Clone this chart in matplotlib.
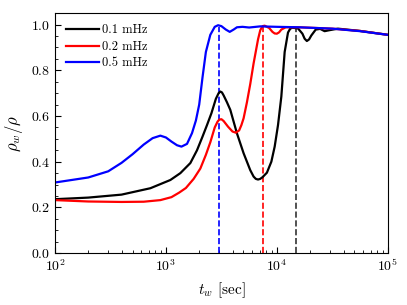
import numpy as np
import matplotlib
matplotlib.use("Agg")
import matplotlib.pyplot as plt

plt.rcParams["font.family"] = "serif"
plt.rcParams["font.serif"] = ["cmr10"]
plt.rcParams["mathtext.fontset"] = "cm"
plt.rcParams["axes.formatter.use_mathtext"] = True

# log10(t_w) and rho_w/rho
logt_01 = [2.0, 2.3, 2.6, 2.86, 3.04, 3.13, 3.22, 3.28, 3.33, 3.37, 3.41, 3.45, 3.475, 3.49,
           3.505, 3.52, 3.55, 3.58, 3.64, 3.70, 3.76, 3.79, 3.81, 3.83, 3.85, 3.87, 3.91, 3.95, 3.98,
           4.01, 4.04, 4.07, 4.10, 4.12, 4.14, 4.19, 4.23, 4.25, 4.27, 4.29, 4.31, 4.35, 4.39, 4.43,
           4.47, 4.55, 4.75, 5.0]
rho_01 = [0.236, 0.243, 0.256, 0.284, 0.32, 0.35, 0.394, 0.45, 0.51, 0.56, 0.612, 0.675, 0.70, 0.707,
          0.703, 0.69, 0.66, 0.627, 0.524, 0.437, 0.363, 0.335, 0.325, 0.322, 0.325, 0.332, 0.352, 0.40, 0.466,
          0.56, 0.685, 0.88, 0.965, 0.982, 0.986, 0.983, 0.96, 0.938, 0.928, 0.935, 0.952, 0.978, 0.981, 0.971,
          0.975, 0.982, 0.972, 0.955]

logt_02 = [2.0, 2.3, 2.6, 2.8, 2.95, 3.05, 3.12, 3.18, 3.25, 3.31, 3.36, 3.40, 3.44,
           3.465, 3.48, 3.50, 3.52, 3.56, 3.60, 3.63, 3.66, 3.68, 3.70, 3.73, 3.76, 3.79, 3.83, 3.85, 3.87,
           3.89, 3.93, 3.96, 3.98, 4.0, 4.02, 4.04, 4.08, 4.2, 4.5, 4.75, 5.0]
rho_02 = [0.232, 0.226, 0.224, 0.225, 0.232, 0.245, 0.265, 0.285, 0.325, 0.37, 0.43, 0.485, 0.55,
          0.575, 0.584, 0.586, 0.578, 0.553, 0.532, 0.527, 0.537, 0.56, 0.59, 0.66, 0.74, 0.83, 0.935, 0.975, 0.993,
          0.995, 0.985, 0.968, 0.961, 0.96, 0.966, 0.978, 0.988, 0.988, 0.982, 0.972, 0.955]

logt_05 = [2.0, 2.15, 2.3, 2.48, 2.6, 2.7, 2.8, 2.88, 2.95, 3.0, 3.05, 3.1, 3.14, 3.19,
           3.235, 3.27, 3.3, 3.33, 3.36, 3.4, 3.44, 3.47, 3.5, 3.54, 3.575, 3.61, 3.64,
           3.69, 3.75, 3.85, 4.0, 4.2, 4.5, 4.75, 5.0]
rho_05 = [0.309, 0.32, 0.331, 0.358, 0.395, 0.433, 0.475, 0.503, 0.514, 0.506, 0.488, 0.472, 0.466, 0.478,
          0.525, 0.58, 0.65, 0.77, 0.88, 0.955, 0.99, 0.997, 0.993, 0.978, 0.968, 0.978, 0.988,
          0.99, 0.987, 0.992, 0.99, 0.988, 0.982, 0.971, 0.955]

labels = ["0.1 mHz", "0.2 mHz", "0.5 mHz"]
colors = ["black", "red", "blue"]

# dashed markers (t_w in sec, top of line)
t_mark = [15000, 7500, 3000]
rho_mark = [0.985, 0.99, 0.99]
mark_colors = ["0.2", "red", "blue"]

fig = plt.figure(figsize=(4.07, 3.05), dpi=100)
ax = fig.add_axes([0.135, 0.17, 0.818, 0.787])

for t, r, c in zip(t_mark, rho_mark, mark_colors):
    ax.vlines(t, 0, r, colors=c, linestyles="--", lw=1.2)

for lt, r, lab, c in zip([logt_01, logt_02, logt_05], [rho_01, rho_02, rho_05], labels, colors):
    ax.plot(10 ** np.array(lt), r, color=c, lw=1.6, label=lab)

ax.set_xscale("log")
ax.set_xlim(1e2, 1e5)
ax.set_ylim(0, 1.05)
ax.set_yticks([0.0, 0.2, 0.4, 0.6, 0.8, 1.0])
ax.set_yticks(np.arange(0, 1.05, 0.05), minor=True)
ax.tick_params(which="both", direction="in", labelsize=10)
ax.tick_params(which="major", length=4)
ax.tick_params(which="minor", length=2)

ax.set_xlabel(r"$t_w$ [sec]", fontsize=11)
ax.set_ylabel(r"$\rho_w/\rho$", fontsize=12)
ax.legend(loc="upper left", frameon=False, fontsize=9, handlelength=2.6,
          handletextpad=0.3, labelspacing=0.35)

fig.savefig("out.png", dpi=100)
